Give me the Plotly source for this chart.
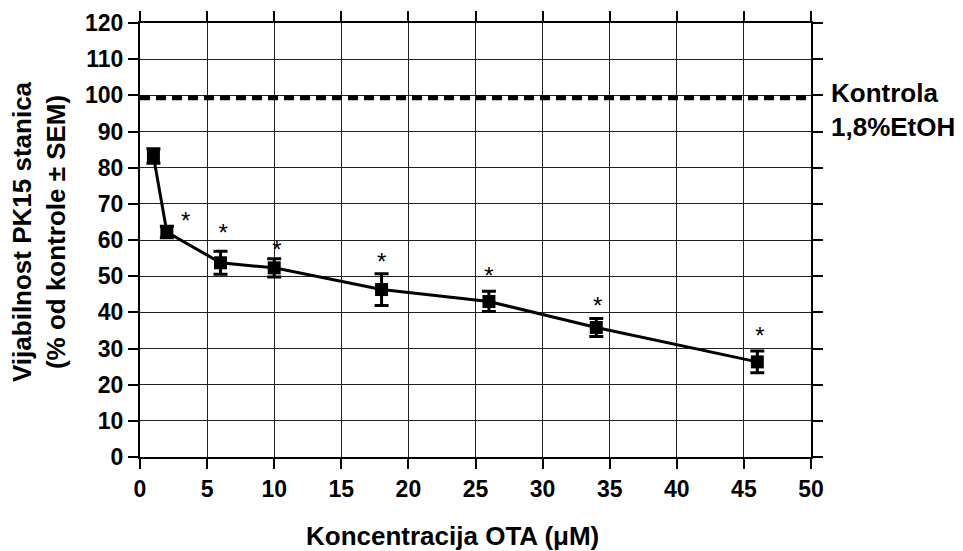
import plotly.graph_objects as go

conc = [1, 2, 6, 10, 18, 26, 34, 46]
viability = [83.2, 62.2, 53.7, 52.3, 46.3, 43.0, 35.8, 26.3]
sem = [2.0, 1.6, 3.2, 2.5, 4.4, 2.8, 2.5, 3.0]
star_x = [3.4, 6.2, 10.2, 18.0, 26.0, 34.1, 46.2]
star_y = [64.8, 61.3, 56.6, 53.5, 49.5, 41.2, 32.8]
control_level = 99.3
x_ticks = [0, 5, 10, 15, 20, 25, 30, 35, 40, 45, 50]
y_ticks = [0, 10, 20, 30, 40, 50, 60, 70, 80, 90, 100, 110, 120]

FONT = "Liberation Sans, Arial, sans-serif"

fig = go.Figure()
fig.add_trace(go.Scatter(
    x=[0, 50], y=[control_level, control_level], mode="lines",
    line=dict(color="black", width=5, dash="10px,6px"),
    hoverinfo="skip", showlegend=False))
fig.add_trace(go.Scatter(
    x=conc, y=viability, mode="lines+markers",
    line=dict(color="black", width=3),
    marker=dict(symbol="square", size=13, color="black"),
    error_y=dict(type="data", array=sem, visible=True, color="black",
                 thickness=3, width=7),
    showlegend=False))
fig.add_trace(go.Scatter(
    x=star_x, y=star_y, mode="text", text=["*"] * len(star_x),
    textposition="middle center",
    textfont=dict(family=FONT, size=24, color="black"),
    showlegend=False, hoverinfo="skip"))

fig.add_annotation(
    x=1, xref="paper", xanchor="left", y=control_level, yref="y",
    yanchor="top", yshift=22, xshift=18,
    text="<b>Kontrola<br>1,8%EtOH</b>", showarrow=False, align="left",
    font=dict(family=FONT, size=26, color="black"))

# axis titles
fig.add_annotation(
    x=0.5, xref="paper", xanchor="center", xshift=-23,
    y=0, yref="paper", yanchor="middle", yshift=-79,
    text="<b>Koncentracija OTA (μM)</b>", showarrow=False,
    font=dict(family=FONT, size=26, color="black"))
fig.add_annotation(
    x=0, xref="paper", xanchor="center", xshift=-101,
    y=0.5, yref="paper", yanchor="middle", yshift=8,
    textangle=-90,
    text="<b>Vijabilnost PK15 stanica<br>(% od kontrole ± SEM)</b>",
    showarrow=False,
    font=dict(family=FONT, size=26, color="black"))

axis_common = dict(
    showline=True, linecolor="black", linewidth=2, mirror="ticks",
    ticks="outside", ticklen=10, tickwidth=2, tickcolor="black",
    showgrid=True, gridcolor="#222", gridwidth=1, zeroline=False,
    automargin=False,
    tickfont=dict(family=FONT, size=23, color="black", weight="bold"))

fig.update_xaxes(range=[0, 50], tickvals=x_ticks, **axis_common)
fig.update_yaxes(range=[0, 120], tickvals=y_ticks, **axis_common)

fig.update_layout(
    width=963, height=551,
    margin=dict(l=140, r=152, t=23, b=94),
    plot_bgcolor="white", paper_bgcolor="white",
    font=dict(family=FONT, color="black"))

# remove the default 8px page margin so the figure fills the window exactly
fig.write_html("out.html", config={"displayModeBar": False},
               post_script="document.body.style.margin='0';")
